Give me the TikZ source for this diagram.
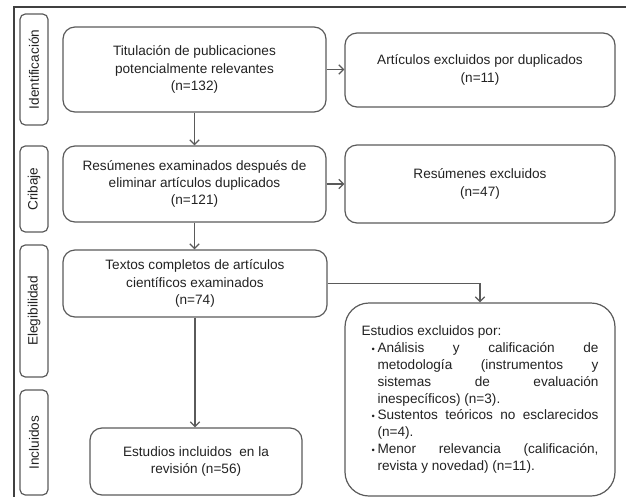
\documentclass[tikz,border=0pt]{standalone}
\usepackage{fontspec}
\setmainfont{Liberation Sans}
\usetikzlibrary{arrows.meta}
\definecolor{txtgray}{HTML}{222222}
\definecolor{linegray}{HTML}{5A5A5A}
\newcommand{\exline}[1]{\hspace*{12pt}\makebox[165.75pt][s]{#1}}
\newcommand{\exitem}[1]{\hspace*{12pt}\llap{{\scriptsize\textbullet}\hspace{2pt}}\makebox[165.75pt][s]{#1}}

\begin{document}
\begin{tikzpicture}[x=0.75pt,y=-0.75pt,>={Straight Barb[length=3.5pt,width=7pt]},
 font=\fontsize{10.2}{13}\selectfont,text=txtgray,
 box/.style={draw=linegray,line width=0.9pt,rounded corners=9pt,align=center,inner sep=0pt},
 phase/.style={draw=linegray,line width=0.9pt,rounded corners=4pt,rotate=90,minimum height=21pt,inner sep=0pt},
 conn/.style={draw=linegray,line width=0.9pt,->}]
\useasboundingbox (0,0) rectangle (626,497);
\draw[line width=1.2pt,draw=black!75] (14,497) -- (14,7) -- (626,7);
% phases on the left
\foreach \k/\y/\h/\t in {ide/69.5/83.25pt/Identificación,cri/189/64.5pt/Cribaje,ele/311/99pt/Elegibilidad,inc/442.5/78.75pt/Incluidos}{
 \node[phase,minimum width=\h] (f\k) at (34,\y) {\t};
}
\node[box,minimum width=197.25pt,minimum height=63.75pt] (tit) at (194.5,69.5) {Titulación de publicaciones\\potencialmente relevantes\\(n=132)};
\node[box,minimum width=202.5pt,minimum height=55.5pt] (art) at (480,70) {Artículos excluidos por duplicados\\(n=11)};
\node[box,minimum width=197.25pt,minimum height=57pt] (res) at (194.5,184) {Resúmenes examinados después de\\eliminar artículos duplicados\\(n=121)};
\node[box,minimum width=202.5pt,minimum height=58.5pt] (resx) at (480,184) {Resúmenes excluidos\\(n=47)};
\node[box,minimum width=198pt,minimum height=50.25pt] (tex) at (195,283.5) {Textos completos de artículos\\científicos examinados\\(n=74)};
\node[box,minimum width=159pt,minimum height=50.25pt] (inc) at (196,461.5) {Estudios incluidos\ \ en la\\revisión (n=56)};
\node[box,rounded corners=18pt,minimum width=202.5pt,minimum height=144.75pt,align=left,
 font=\fontsize{10.2}{12.7}\selectfont] (exc) at (480,399.5) {%
Estudios excluidos por:\\
\exitem{Análisis y calificación de}\\
\exline{metodología (instrumentos y}\\
\exline{sistemas de evaluación}\\
\hspace*{12pt}inespecíficos) (n=3).\\
\exitem{Sustentos teóricos no esclarecidos}\\
\hspace*{12pt}(n=4).\\
\exitem{Menor relevancia (calificación,}\\
\hspace*{12pt}revista y novedad) (n=11).};
% connectors
\draw[conn] (tit.south) -- (tit.south |- res.north);
\draw[conn] (tit.east) -- (tit.east -| art.west);
\draw[conn] (res.east) -- (resx.west);
\draw[conn] (res.south) -- (res.south |- tex.north);
\draw[conn] (tex.south) -- (tex.south |- inc.north);
\draw[conn] (tex.east) -| (exc.north);
\end{tikzpicture}
\end{document}
